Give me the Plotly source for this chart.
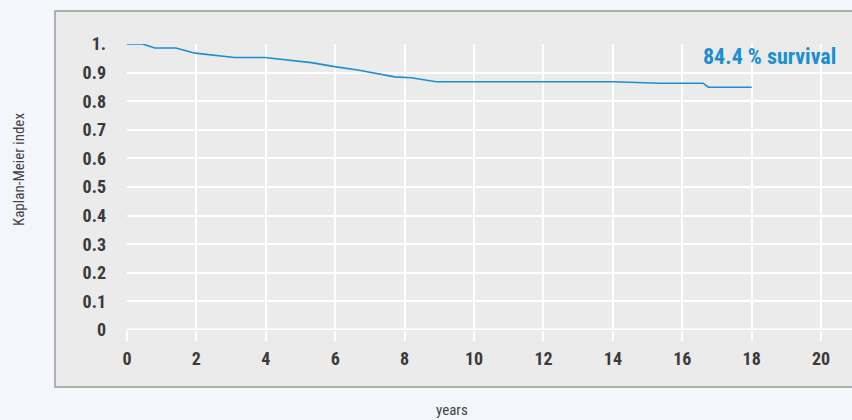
import plotly.graph_objects as go

years = [0, 0.45, 0.8, 1.41, 1.96, 3.1, 3.97, 5.31, 5.98, 6.65, 7.71, 8.19, 8.91, 10.73, 14.0, 15.36, 16.6, 16.75, 18.0]
km_index = [1.0, 1.0, 0.986, 0.986, 0.968, 0.953, 0.953, 0.935, 0.921, 0.909, 0.885, 0.882, 0.868, 0.868, 0.868, 0.863, 0.863, 0.849, 0.849]

x_ticks = [0, 2, 4, 6, 8, 10, 12, 14, 16, 18, 20]
y_ticks = [0, 0.1, 0.2, 0.3, 0.4, 0.5, 0.6, 0.7, 0.8, 0.9, 1.0]
y_tick_labels = ["0", "0.1", "0.2", "0.3", "0.4", "0.5", "0.6", "0.7", "0.8", "0.9", "1."]

annotation_text = "84.4 % survival"
x_title = "years"
y_title = "Kaplan-Meier index"

FONT = "Roboto Condensed, Liberation Sans Narrow, Roboto, sans-serif"
BLUE = "#1b8fd2"

fig = go.Figure()
fig.add_trace(go.Scatter(x=years, y=km_index, mode="lines",
                         line=dict(color=BLUE, width=1.6), hoverinfo="skip", showlegend=False))

W, H = 852, 420
L, R, T, B = 127, 0, 44, 90

def px_to_paper(px, py):
    return (px - L) / (W - L - R), (H - B - py) / (H - T - B)

fig.update_layout(
    width=W, height=H,
    margin=dict(l=L, r=R, t=T, b=B, pad=0),
    paper_bgcolor="#f3f7fb",
    plot_bgcolor="#ebebeb",
    font=dict(family=FONT, color="#3a3a3a"),
    xaxis=dict(range=[0, 20.89], tickvals=x_ticks, showgrid=True, gridcolor="white", gridwidth=1.5,
               zeroline=False, showline=False, ticks="outside", ticklen=10, tickwidth=1.5,
               tickcolor="white", tickfont=dict(size=18, family=FONT, color="#3a3a3a", weight="bold"),
               ticklabelstandoff=2, fixedrange=True),
    yaxis=dict(range=[0, 1.0], tickvals=y_ticks, ticktext=y_tick_labels, showgrid=True,
               gridcolor="white", gridwidth=1.5, zeroline=False, showline=False,
               ticks="", tickfont=dict(size=18, family=FONT, color="#3a3a3a", weight="bold"),
               ticklabelstandoff=20, fixedrange=True),
    shapes=[
        dict(type="rect", xref="paper", yref="paper",
             x0=-(L - 55) / (W - L - R), x1=1.05,
             y0=-(387 - 330) / (330 - 44), y1=1 + (44 - 11) / (330 - 44),
             line=dict(color="#9a9a9a", width=1.5), fillcolor="#ebebeb", layer="below"),
        dict(type="line", xref="x", yref="y", x0=0, x1=20.89, y0=0, y1=0,
             line=dict(color="white", width=3), layer="below"),
    ],
)

ax, ay = px_to_paper(838, 56)
yx, yy = px_to_paper(19, 170)
tx, ty = px_to_paper(452, 410)
fig.add_annotation(text=f"<b>{annotation_text}</b>", x=ax, y=ay, xref="paper", yref="paper",
                   xanchor="right", yanchor="middle", showarrow=False,
                   font=dict(size=22, color=BLUE, family=FONT))
fig.add_annotation(text=y_title, x=yx, y=yy, xref="paper", yref="paper", textangle=-90,
                   xanchor="center", yanchor="middle", showarrow=False,
                   font=dict(size=15, color="#444444", family=FONT))
fig.add_annotation(text=x_title, x=tx, y=ty, xref="paper", yref="paper",
                   xanchor="center", yanchor="middle", showarrow=False,
                   font=dict(size=15, color="#444444", family=FONT))

fig.write_html("out.html", config={"displayModeBar": False},
               post_script="document.body.style.margin='0';document.body.style.overflow='hidden';")
